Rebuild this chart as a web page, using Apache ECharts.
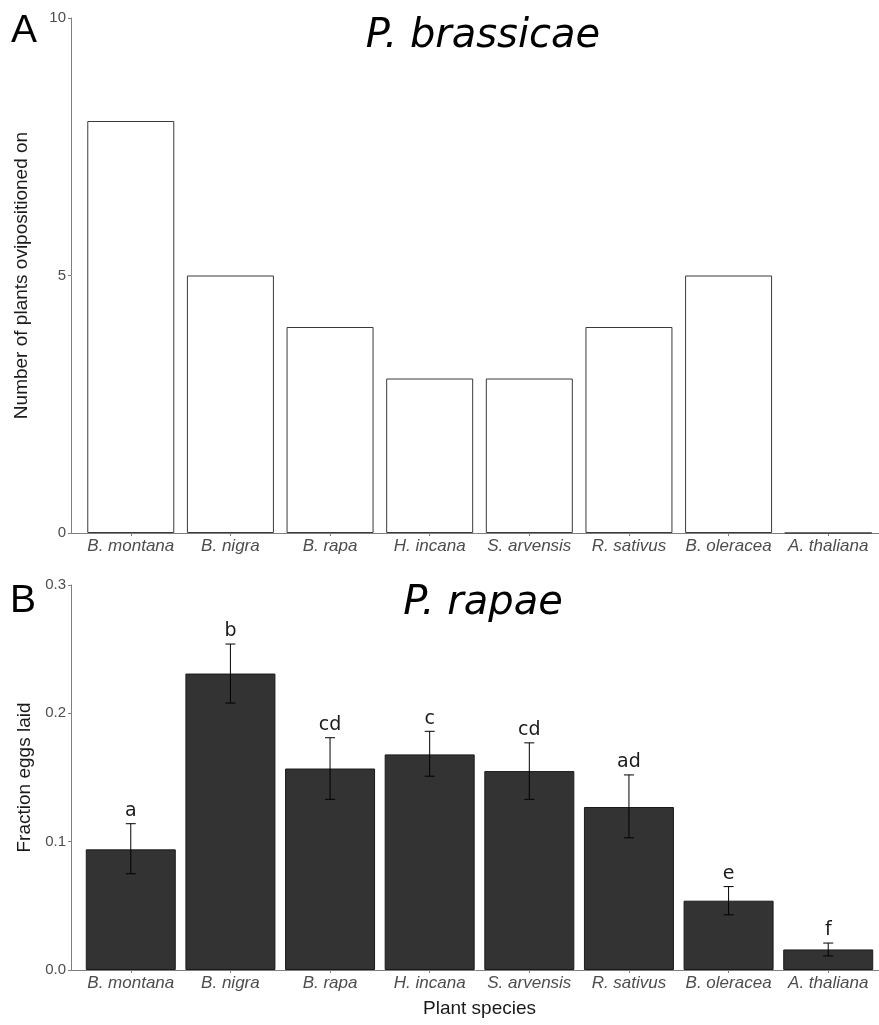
<!DOCTYPE html>
<html>
<head>
<meta charset="utf-8">
<script src="https://cdn.jsdelivr.net/npm/echarts@6/dist/echarts.min.js"></script>
<style>
html,body{margin:0;padding:0;background:#fff;}
#chart{width:879px;height:1025px;}
</style>
</head>
<body>
<div id="chart"></div>
<script>
const categories = ['B. montana','B. nigra','B. rapa','H. incana','S. arvensis','R. sativus','B. oleracea','A. thaliana'];
const brassicaePlants = [8, 5, 4, 3, 3, 4, 5, 0];
const rapaeFraction = [0.094, 0.231, 0.157, 0.168, 0.155, 0.127, 0.054, 0.016];
const rapaeLower    = [0.075, 0.208, 0.133, 0.151, 0.133, 0.103, 0.043, 0.011];
const rapaeUpper    = [0.114, 0.254, 0.181, 0.186, 0.177, 0.152, 0.065, 0.021];
const rapaeLetters  = ['a', 'b', 'cd', 'c', 'cd', 'ad', 'e', 'f'];
const categoryPositions = [1, 2, 3, 4, 5, 6, 7, 8];

const axisGray = '#7f7f7f';
const labelGray = '#4d4d4d';
const sans = 'Liberation Sans, Arial, sans-serif';

function xAxisCfg(gridIndex, name) {
  return {
    type: 'value', gridIndex: gridIndex, min: 0.4, max: 8.6,
    axisLine: {show: true, lineStyle: {color: axisGray, width: 1}},
    axisTick: {show: true, customValues: categoryPositions, length: 3, lineStyle: {color: axisGray}},
    axisLabel: {
      customValues: categoryPositions,
      formatter: v => categories[Math.round(v) - 1] || '',
      fontStyle: 'italic', fontSize: 17, color: labelGray, fontFamily: sans, margin: 5
    },
    splitLine: {show: false},
    name: name || '', nameLocation: 'middle', nameGap: 29,
    nameTextStyle: {fontSize: 19, color: '#1a1a1a', fontFamily: sans}
  };
}
function yAxisCfg(gridIndex, max, interval, name, gap, fmt) {
  return {
    type: 'value', gridIndex: gridIndex, min: 0, max: max, interval: interval,
    axisLine: {show: true, lineStyle: {color: axisGray, width: 1}},
    axisTick: {show: true, length: 3, lineStyle: {color: axisGray}},
    axisLabel: {fontSize: 15, color: labelGray, fontFamily: sans, margin: 5, formatter: fmt},
    splitLine: {show: false},
    name: name, nameLocation: 'middle', nameGap: gap, nameRotate: 90,
    nameTextStyle: {fontSize: 19, color: '#1a1a1a', fontFamily: sans}
  };
}

const chart = echarts.init(document.getElementById('chart'), null, {renderer: 'canvas'});
chart.setOption({
  animation: false,
  backgroundColor: '#fff',
  grid: [
    {left: 71, top: 18, width: 817, height: 515, containLabel: false, outerBoundsMode: 'none'},
    {left: 71, top: 585, width: 817, height: 385, containLabel: false, outerBoundsMode: 'none'}
  ],
  xAxis: [xAxisCfg(0), xAxisCfg(1, 'Plant species')],
  yAxis: [
    yAxisCfg(0, 10, 5, 'Number of plants ovipositioned on', 40, v => String(v)),
    yAxisCfg(1, 0.3, 0.1, 'Fraction eggs laid', 34, v => v.toFixed(1))
  ],
  graphic: [
    {type: 'text', x: 483, y: 37, style: {text: 'P. brassicae', font: 'italic 40px "DejaVu Sans"', fill: '#000', align: 'center', verticalAlign: 'middle'}},
    {type: 'text', x: 483, y: 604, style: {text: 'P. rapae', font: 'italic 40px "DejaVu Sans"', fill: '#000', align: 'center', verticalAlign: 'middle'}},
    {type: 'text', x: 11, y: 31, style: {text: 'A', font: '39px "Liberation Sans"', fill: '#000', align: 'left', verticalAlign: 'middle'}},
    {type: 'text', x: 10, y: 601, style: {text: 'B', font: '39px "Liberation Sans"', fill: '#000', align: 'left', verticalAlign: 'middle'}}
  ],
  series: [
    {
      type: 'bar', xAxisIndex: 0, yAxisIndex: 0, barWidth: 87,
      data: categoryPositions.map((p, i) => [p, brassicaePlants[i]]),
      itemStyle: {color: '#ffffff', borderColor: '#3a3a3a', borderWidth: 1}
    },
    {
      type: 'bar', xAxisIndex: 1, yAxisIndex: 1, barWidth: 90,
      data: categoryPositions.map((p, i) => [p, rapaeFraction[i]]),
      itemStyle: {color: '#333333', borderColor: '#1a1a1a', borderWidth: 1}
    },
    {
      type: 'custom', xAxisIndex: 1, yAxisIndex: 1,
      data: categoryPositions.map((p, i) => [p, rapaeLower[i], rapaeUpper[i]]),
      encode: {x: 0, y: [1, 2]},
      renderItem: function (params, api) {
        const x = api.value(0);
        const lo = api.coord([x, api.value(1)]);
        const hi = api.coord([x, api.value(2)]);
        const hw = 5;
        const ls = {stroke: '#000', lineWidth: 1};
        return {
          type: 'group',
          children: [
            {type: 'line', shape: {x1: lo[0], y1: lo[1], x2: hi[0], y2: hi[1]}, style: ls},
            {type: 'line', shape: {x1: hi[0] - hw, y1: hi[1], x2: hi[0] + hw, y2: hi[1]}, style: ls},
            {type: 'line', shape: {x1: lo[0] - hw, y1: lo[1], x2: lo[0] + hw, y2: lo[1]}, style: ls},
            {type: 'text', x: hi[0], y: hi[1] - 3, style: {
              text: rapaeLetters[params.dataIndex], font: '19px "DejaVu Sans"', fill: '#1a1a1a',
              align: 'center', verticalAlign: 'bottom'}}
          ]
        };
      },
      z: 5
    }
  ]
});
</script>
</body>
</html>
